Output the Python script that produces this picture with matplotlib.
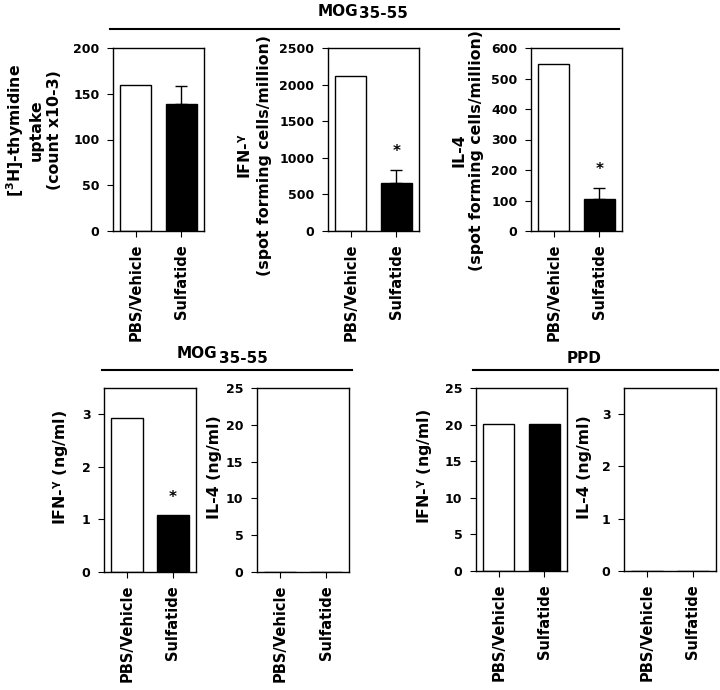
import matplotlib
matplotlib.use("Agg")
import matplotlib.pyplot as plt
from matplotlib.lines import Line2D

#--------------- Style ---------------------
plt.rcParams['font.family'] = 'DejaVu Sans'
plt.rcParams['font.weight'] = 'bold'
plt.rcParams['axes.labelweight'] = 'bold'
plt.rcParams['axes.linewidth'] = 1.0
plt.rcParams['xtick.labelsize'] = 10.5
plt.rcParams['ytick.labelsize'] = 9
plt.rcParams['axes.labelsize'] = 11.3
plt.rcParams['xtick.major.size'] = 4.3
plt.rcParams['ytick.major.size'] = 4.3
plt.rcParams['xtick.major.pad'] = 5
plt.rcParams['ytick.major.pad'] = 5.5
plt.rcParams['mathtext.default'] = 'regular'

#--------------- Data ----------------------
groups = ["PBS/Vehicle", "Sulfatide"]

thymidine = [160, 139]
thymidine_err = [0, 19]
ifn_spots = [2120, 656]
ifn_spots_err = [0, 177]
il4_spots = [548, 105]
il4_spots_err = [0, 36]

ifn_mog = [2.93, 1.08]
il4_mog = [0, 0]
ifn_ppd = [20.1, 20.1]
il4_ppd = [0, 0]

W, H = 720, 690
fig = plt.figure(figsize=(7.2, 6.9), dpi=100)


def px_axes(x0, y0, x1, y1):
    return fig.add_axes([x0 / W, 1 - y1 / H, (x1 - x0) / W, (y1 - y0) / H])


def bar_panel(ax, vals, ylim, yticks, ylabel, err=None, stars=None,
              label_y=0.5, labelpad=5):
    xs = range(len(vals))
    ax.bar(xs, vals, width=0.68, color=['white', 'black'],
           edgecolor='black', linewidth=1.0)
    if err is not None:
        for x, v, e in zip(xs, vals, err):
            if e > 0:
                ax.errorbar(x, v, yerr=[[0], [e]], color='black',
                            capsize=4, elinewidth=1, capthick=1)
    if stars is not None:
        for x, v, s in zip(xs, vals, stars):
            if s:
                top = v + (err[x] if err is not None else 0)
                ax.annotate('*', (x, top), xytext=(0, 13),
                            textcoords='offset points', ha='center',
                            va='center', fontsize=11, fontweight='bold')
    ax.set_xlim(-0.5, 1.5)
    ax.set_ylim(*ylim)
    ax.set_yticks(yticks)
    ax.set_xticks(list(xs))
    ax.set_xticklabels(groups, rotation=90)
    ax.set_ylabel(ylabel, linespacing=1.25, labelpad=labelpad)
    ax.yaxis.label.set_y(label_y)


ifn_lab = "IFN-$^{\\gamma}$"

ax1 = px_axes(113, 48, 204, 231)
bar_panel(ax1, thymidine, (0, 200), range(0, 201, 50),
          "[$^{\\mathbf{3}}$H]-thymidine\nuptake\n(count x10-3)", thymidine_err,
          label_y=0.55, labelpad=8)

ax2 = px_axes(328, 48, 419, 231)
bar_panel(ax2, ifn_spots, (0, 2500), range(0, 2501, 500),
          ifn_lab + "\n(spot forming cells/million)", ifn_spots_err, [False, True],
          label_y=0.41)

ax3 = px_axes(531, 48, 622, 231)
bar_panel(ax3, il4_spots, (0, 600), range(0, 601, 100),
          "IL-4\n(spot forming cells/million)", il4_spots_err, [False, True],
          label_y=0.44)

ax4 = px_axes(104, 388, 196, 572)
bar_panel(ax4, ifn_mog, (0, 3.5), range(0, 4), ifn_lab + " (ng/ml)",
          stars=[False, True], label_y=0.57, labelpad=8)

ax5 = px_axes(257, 388, 349, 572)
bar_panel(ax5, il4_mog, (0, 25), range(0, 26, 5), "IL-4 (ng/ml)",
          label_y=0.57, labelpad=3)

ax6 = px_axes(476, 388, 567, 571)
bar_panel(ax6, ifn_ppd, (0, 25), range(0, 26, 5), ifn_lab + " (ng/ml)",
          label_y=0.57, labelpad=7)

ax7 = px_axes(624, 388, 716, 571)
bar_panel(ax7, il4_ppd, (0, 3.5), range(0, 4), "IL-4 (ng/ml)",
          label_y=0.57, labelpad=7)

#--------------- Group headers -------------
def header(x0, x1, y_line, pieces):
    fig.add_artist(Line2D([x0 / W, x1 / W], [1 - y_line / H] * 2,
                          color='black', linewidth=1.5))
    for (x, y, s, ha) in pieces:
        fig.text(x / W, 1 - y / H, s, ha=ha, va='center',
                 fontsize=11, fontweight='bold')


header(110, 619, 29, [(358, 11, "MOG", 'right'), (359, 13, "35-55", 'left')])
header(102, 352, 370, [(217, 353, "MOG", 'right'), (219, 359, "35-55", 'left')])
header(473, 718, 370, [(584, 359, "PPD", 'center')])

fig.savefig("out.png", dpi=100)
